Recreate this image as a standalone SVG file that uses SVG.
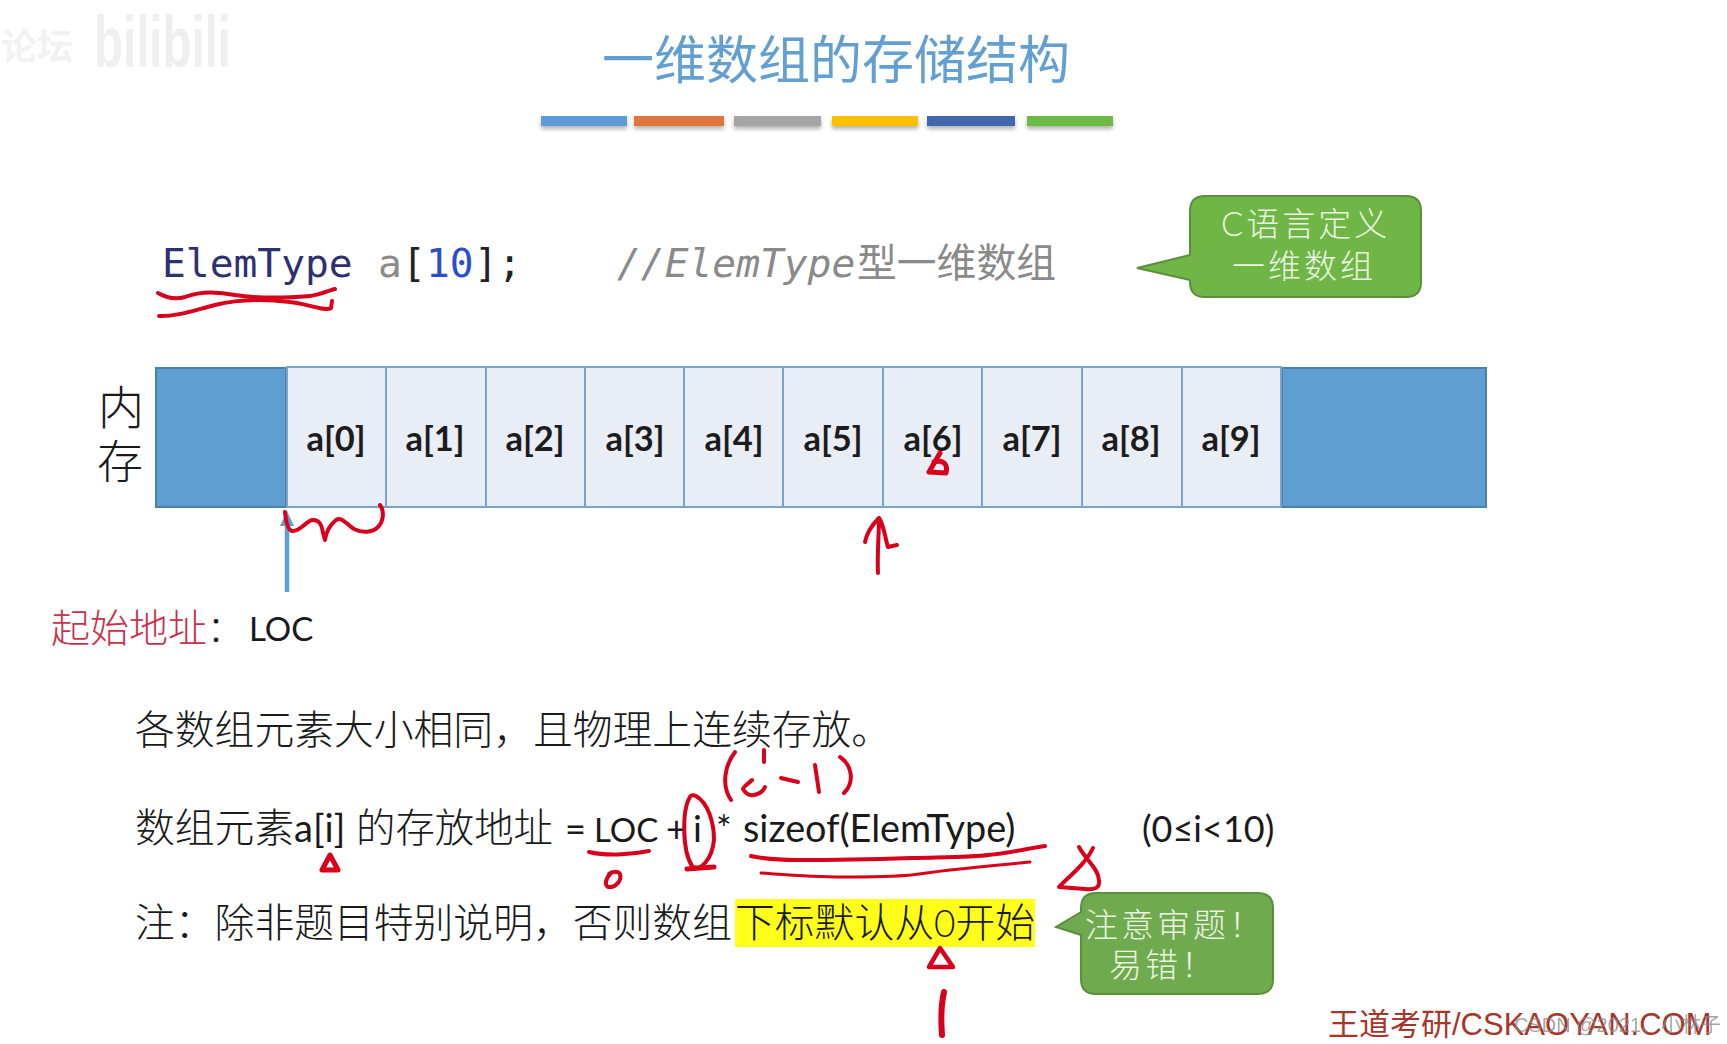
<svg xmlns="http://www.w3.org/2000/svg" width="1727" height="1044" viewBox="0 0 1727 1044">
<style>
text{font-family:"Noto Sans CJK SC","Liberation Sans",sans-serif;fill:#1a1a1a;font-weight:300}
.lat{font-family:"Lato","Noto Sans CJK SC",sans-serif;font-weight:400}
.cell{fill:#e9edf5;stroke:#7ba4cc;stroke-width:2}
.blue{fill:#5f9ed1;stroke:#4a80b0;stroke-width:2}
.cl{font-family:"Lato",sans-serif;font-weight:700;font-size:34.5px;text-anchor:middle;fill:#1c1c1c}
.mono{font-family:"DejaVu Sans Mono","Noto Sans CJK SC",monospace;font-size:39.6px;font-weight:400}
.ink{fill:none;stroke:#d9001b;stroke-width:4;stroke-linecap:round;stroke-linejoin:round}
.call{fill:#70b647;stroke:#5a8f3c;stroke-width:2}
.callg{fill:#6faa4e;stroke:#5a8f3c;stroke-width:2}
.ct{fill:#eaf5e0;font-size:33px;letter-spacing:3px}
.bar{filter:url(#sh)}
</style>
<defs>
<filter id="sh" x="-10%" y="-30%" width="120%" height="200%"><feDropShadow dx="0" dy="3" stdDeviation="2" flood-color="#000" flood-opacity="0.3"/></filter>
</defs>
<rect width="1727" height="1044" fill="#fff"/>
<g id="watermark-top">
<text x="1" y="60" style="fill:#f2f2f2;font-size:36px;font-weight:700">论坛</text>
<text x="94" y="67" style="fill:#efefef;font-family:'Liberation Sans',sans-serif;font-size:72px;font-weight:700" textLength="137" lengthAdjust="spacingAndGlyphs">bilibili</text>
</g>
<g id="title">
<text x="602" y="79" style="fill:#62a0d2;font-size:52px;font-weight:400">一维数组的存储结构</text>
<rect class="bar" x="541" y="116" width="86" height="10" fill="#5b9bd5"/>
<rect class="bar" x="634" y="116" width="90" height="10" fill="#e0763a"/>
<rect class="bar" x="734" y="116" width="87" height="10" fill="#a5a5a5"/>
<rect class="bar" x="832" y="116" width="86" height="10" fill="#ffc000"/>
<rect class="bar" x="927" y="116" width="88" height="10" fill="#3f69ad"/>
<rect class="bar" x="1027" y="116" width="86" height="10" fill="#6dbb45"/>
</g>
<g id="code">
<text class="mono" x="162" y="277" style="fill:#2f2f72">ElemType</text>
<text class="mono" x="378" y="277" style="fill:#8a8a8a">a</text>
<text class="mono" x="402" y="277" style="fill:#222">[</text>
<text class="mono" x="426" y="277" style="fill:#2a4fc8">10</text>
<text class="mono" x="474" y="277" style="fill:#222">];</text>
<text class="mono" x="617" y="277" style="fill:#8a8a8a"><tspan style="font-style:italic">//ElemType</tspan><tspan x="857" style="font-size:39.8px">型一维数组</tspan></text>
</g>
<g id="callout-c">
<path class="call" d="M1205 196H1406Q1421 196 1421 211V282Q1421 297 1406 297H1205Q1190 297 1190 282V280L1137 268L1190 255V211Q1190 196 1205 196Z"/>
<text class="ct" x="1221" y="236"><tspan style="font-family:Lato,sans-serif">C</tspan>语言定义</text>
<text class="ct" x="1232" y="278">一维数组</text>
</g>
<g id="memory-label">
<text x="98" y="424" style="font-size:46px">内</text>
<text x="97" y="478" style="font-size:46px">存</text>
</g>
<g id="memory">
<rect class="blue" x="156" y="368" width="130" height="139"/>
<rect class="blue" x="1282" y="368" width="204" height="139"/>
<g id="a0"><rect class="cell" x="287" y="367" width="99" height="140"/><text class="cl" x="336" y="451">a[0]</text></g>
<g id="a1"><rect class="cell" x="386" y="367" width="100" height="140"/><text class="cl" x="435" y="451">a[1]</text></g>
<g id="a2"><rect class="cell" x="486" y="367" width="99" height="140"/><text class="cl" x="535" y="451">a[2]</text></g>
<g id="a3"><rect class="cell" x="585" y="367" width="99" height="140"/><text class="cl" x="635" y="451">a[3]</text></g>
<g id="a4"><rect class="cell" x="684" y="367" width="99" height="140"/><text class="cl" x="734" y="451">a[4]</text></g>
<g id="a5"><rect class="cell" x="783" y="367" width="100" height="140"/><text class="cl" x="833" y="451">a[5]</text></g>
<g id="a6"><rect class="cell" x="883" y="367" width="99" height="140"/><text class="cl" x="933" y="451">a[6]</text></g>
<g id="a7"><rect class="cell" x="982" y="367" width="100" height="140"/><text class="cl" x="1032" y="451">a[7]</text></g>
<g id="a8"><rect class="cell" x="1082" y="367" width="100" height="140"/><text class="cl" x="1131" y="451">a[8]</text></g>
<g id="a9"><rect class="cell" x="1182" y="367" width="99" height="140"/><text class="cl" x="1231" y="451">a[9]</text></g>
</g>
<g id="connectors">
<path d="M287 592V522" stroke="#5f9ed1" stroke-width="4.5" fill="none"/>
<path d="M287 511L294 526H280Z" fill="#5f9ed1"/>
</g>
<g id="loc">
<text x="51" y="642" style="fill:#c8324a;font-size:39px">起始地址</text>
<text x="207" y="642" style="font-size:36px">：</text>
<text class="lat" x="249" y="641" style="font-size:33px">LOC</text>
</g>
<g id="notes">
<text x="135" y="744" style="font-size:39.8px">各数组元素大小相同，且物理上连续存放。</text>
<text x="135" y="842" style="font-size:39.8px">数组元素</text>
<text class="lat" x="294" y="842" style="font-size:38px">a[i]</text>
<text x="356" y="842" style="font-size:39.4px">的存放地址</text>
<text class="lat" x="565" y="842" style="font-size:36px">=</text>
<text class="lat" x="594" y="842" style="font-size:33px">LOC</text>
<text class="lat" x="666" y="842" style="font-size:36px">+</text>
<text class="lat" x="693" y="842" style="font-size:37px">i</text>
<text class="lat" x="716" y="842" style="font-size:37px">*</text>
<text class="lat" x="743" y="842" style="font-size:37.8px">sizeof(ElemType)</text>
<text class="lat" x="1142" y="842" style="font-size:36px">(0≤i&lt;10)</text>
<rect x="735" y="899" width="300" height="48" fill="#ffff1a"/>
<text x="135" y="937" style="font-size:39.8px">注：除非题目特别说明，否则数组</text>
<text x="735" y="937" style="font-size:39.8px">下标默认从<tspan style="font-family:Lato,sans-serif;font-size:37px">0</tspan>开始</text>
</g>
<g id="callout-note">
<path class="callg" d="M1096 893H1258Q1273 893 1273 908V979Q1273 994 1258 994H1096Q1081 994 1081 979V935L1056 927L1081 912V908Q1081 893 1096 893Z"/>
<text class="ct" x="1085" y="937">注意审题！</text>
<text class="ct" x="1109" y="977">易错！</text>
</g>
<g id="watermark-bottom">
<text x="1328" y="1035" style="fill:#a8352a;font-size:31px;font-weight:400;font-family:'Liberation Sans','Noto Sans CJK SC',sans-serif">王道考研/CSKAOYAN.COM</text>
<text x="1514" y="1032" style="fill:#8a8a8a;opacity:.75;font-size:20px;font-weight:400;font-family:'Liberation Sans','Noto Sans CJK SC',sans-serif">CSDN @2021、小林子</text>
</g>
<g id="ink">
<path class="ink" d="M158 293C165 297 175 300 185 297C200 291 215 291 235 295C260 299 285 298 310 296C320 295 330 290 335 289"/>
<path class="ink" d="M159 316C175 317 195 310 215 305C240 299 265 299 290 302C305 303 325 312 331 308L332 301"/>
<path class="ink" d="M285 512C286 522 288 530 292 531C300 532 305 522 312 520C320 519 322 526 323 533L325 540C326 532 330 525 336 520C342 516 347 525 354 529C362 533 372 533 378 527C383 522 385 512 380 505"/>
<path class="ink" style="stroke-width:5" d="M940 453L929 472L946 473C948 465 944 459 934 462"/>
<path class="ink" d="M878 573C877 555 879 535 879 518C873 524 867 532 865 542M879 518C884 525 885 538 888 547L897 545"/>
<path class="ink" style="stroke-width:5" d="M330 855L322 870L338 870Z"/>
<path class="ink" d="M589 852C605 856 630 855 649 851"/>
<path class="ink" d="M611 873C606 878 604 884 608 887C616 888 622 880 620 874C618 871 612 871 609 874"/>
<path class="ink" d="M690 797C682 810 682 850 692 866C700 872 712 860 714 840C714 822 708 803 696 796C692 794 690 796 690 797"/>
<path class="ink" style="stroke-width:5" d="M687 869L714 867"/>
<path class="ink" d="M735 752C725 765 721 785 731 800"/>
<path class="ink" d="M764 750V762M752 780C748 784 744 786 743 789C746 794 750 796 754 795C759 794 763 792 765 787"/>
<path class="ink" d="M781 778L798 782"/>
<path class="ink" d="M815 765L819 792"/>
<path class="ink" d="M840 757C852 765 855 782 844 793"/>
<path class="ink" d="M751 856C770 860 785 860 797 860C840 860 880 859 911 858C950 857 975 857 988 855C1010 853 1030 848 1045 846"/>
<path class="ink" style="stroke-width:3" d="M761 873C790 875 815 877 842 877C865 877 890 877 911 875C950 869 1000 865 1030 862"/>
<path class="ink" d="M1079 847C1086 860 1098 868 1099 880C1100 888 1095 890 1085 889L1059 887C1068 877 1085 865 1093 848"/>
<path class="ink" style="stroke-width:4.5" d="M940 948L929 967H953Z"/>
<path class="ink" style="stroke-width:6" d="M944 992C941 1005 941 1022 942 1035"/>
</g>
</svg>
